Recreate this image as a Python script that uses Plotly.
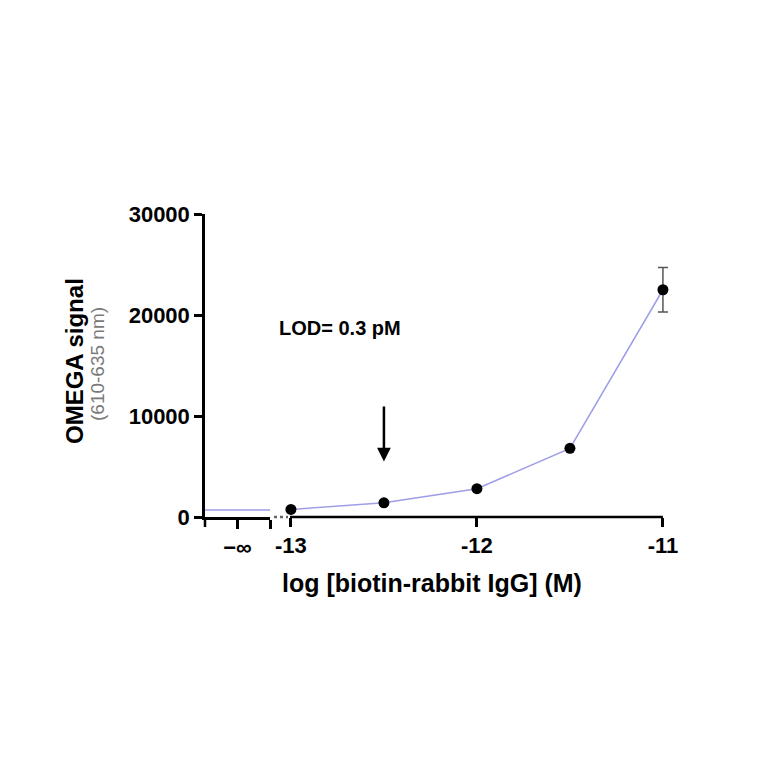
import plotly.graph_objects as go

# Data
log_conc = [-13.0, -12.5, -12.0, -11.5, -11.0]
signal = [750, 1400, 2800, 6800, 22500]
signal_err = [0, 0, 0, 0, 2200]
blank_signal = 700
y_ticks = [0, 10000, 20000, 30000]
x_ticks = [-13, -12, -11]
lod_x = -12.5
lod_label = "LOD= 0.3 pM"

OFF = 8  # page body margin
L, R, T, B = 205, 675, 214, 517
W, H = 764, 764
pw, ph = R - L, B - T

def px(x):
    return (x - L) / pw

def py(y):
    return (B - y) / ph

# main axis geometry
MAIN_START_PX = 290
DECADE_PX = 186.0
x2_start = -13.005
x2_end = x2_start + (R - MAIN_START_PX) / DECADE_PX

line_color = "#9d9de8"
FAM = "Liberation Sans, Arial"
font_tick = dict(family=FAM, size=22, color="black")

fig = go.Figure()

# Blank (-inf) segment
fig.add_trace(go.Scatter(x=[-1, 1], y=[blank_signal, blank_signal], mode="lines",
                         line=dict(color=line_color, width=1.5), xaxis="x", yaxis="y",
                         showlegend=False, hoverinfo="skip", cliponaxis=False))

# Main curve
fig.add_trace(go.Scatter(x=log_conc, y=signal, mode="lines+markers",
                         line=dict(color=line_color, width=1.5),
                         marker=dict(color="black", size=11),
                         error_y=dict(type="data", array=signal_err, visible=True,
                                      color="#555555", thickness=1.5, width=5),
                         xaxis="x2", yaxis="y", showlegend=False, cliponaxis=False))

left_end = px(270)
main_start = px(MAIN_START_PX)

fig.update_layout(
    width=W, height=H,
    margin=dict(l=L - OFF, r=W - R + OFF, t=T - OFF, b=H - B + OFF, pad=0),
    plot_bgcolor="white", paper_bgcolor="white",
    xaxis=dict(domain=[0, left_end], range=[-1, 1], tickvals=[0, 1], ticktext=["<b>−∞</b>", ""],
               showgrid=False, zeroline=False, showline=True, linecolor="black", linewidth=2.5,
               ticks="outside", ticklen=9, tickwidth=2.5, tickcolor="black",
               tickfont=dict(family=FAM, size=22, color="black"),
               anchor="y"),
    xaxis2=dict(domain=[main_start, 1], range=[x2_start, x2_end], tickvals=x_ticks,
                ticktext=["<b>%d</b>" % v for v in x_ticks],
                showgrid=False, zeroline=False, showline=False,
                ticks="outside", ticklen=9, tickwidth=2.5, tickcolor="black",
                tickfont=font_tick, anchor="y"),
    yaxis=dict(range=[0, 30000], tickvals=y_ticks, ticktext=["<b>%d</b>" % v for v in y_ticks],
               showgrid=False, zeroline=False, showline=True, linecolor="black", linewidth=2.5,
               ticks="outside", ticklen=8, tickwidth=2.5, tickcolor="black",
               tickfont=font_tick),
)

# main x-axis line ending at the last tick
fig.add_shape(type="line", xref="x2", yref="paper", x0=x2_start, x1=x_ticks[-1], y0=0, y1=0,
              line=dict(color="black", width=2.5))
# y-axis extension below the x-axis
fig.add_shape(type="line", xref="paper", yref="paper", x0=0, x1=0, y0=0, y1=py(527),
              line=dict(color="black", width=2.5))
# axis break dots
fig.add_shape(type="line", xref="paper", yref="paper", x0=px(274), x1=px(288), y0=0, y1=0,
              line=dict(color="#666666", width=2.5, dash="dot"))

annotations = [
    dict(text="<b>OMEGA signal</b>", xref="paper", yref="paper", x=px(74), y=py(361),
         textangle=-90, showarrow=False, xanchor="center", yanchor="middle",
         font=dict(family=FAM, size=24, color="black")),
    dict(text="(610-635 nm)", xref="paper", yref="paper", x=px(97), y=py(364),
         textangle=-90, showarrow=False, xanchor="center", yanchor="middle",
         font=dict(family=FAM, size=19, color="#7a7a7a")),
    dict(text="<b>log [biotin-rabbit IgG] (M)</b>", xref="paper", yref="paper",
         x=px(432), y=py(583), showarrow=False, xanchor="center", yanchor="middle",
         font=dict(family=FAM, size=25, color="black")),
    dict(text="<b>%s</b>" % lod_label, xref="paper", yref="paper", x=px(277), y=py(328),
         showarrow=False, xanchor="left", yanchor="middle",
         font=dict(family=FAM, size=20, color="black")),
    dict(text="", xref="x2", yref="y", x=lod_x, y=5500, axref="x2", ayref="y",
         ax=lod_x, ay=11100, showarrow=True, arrowhead=2, arrowsize=1.1, arrowwidth=2.5,
         arrowcolor="black"),
]
fig.update_layout(annotations=annotations)

fig.write_html("out.html")
